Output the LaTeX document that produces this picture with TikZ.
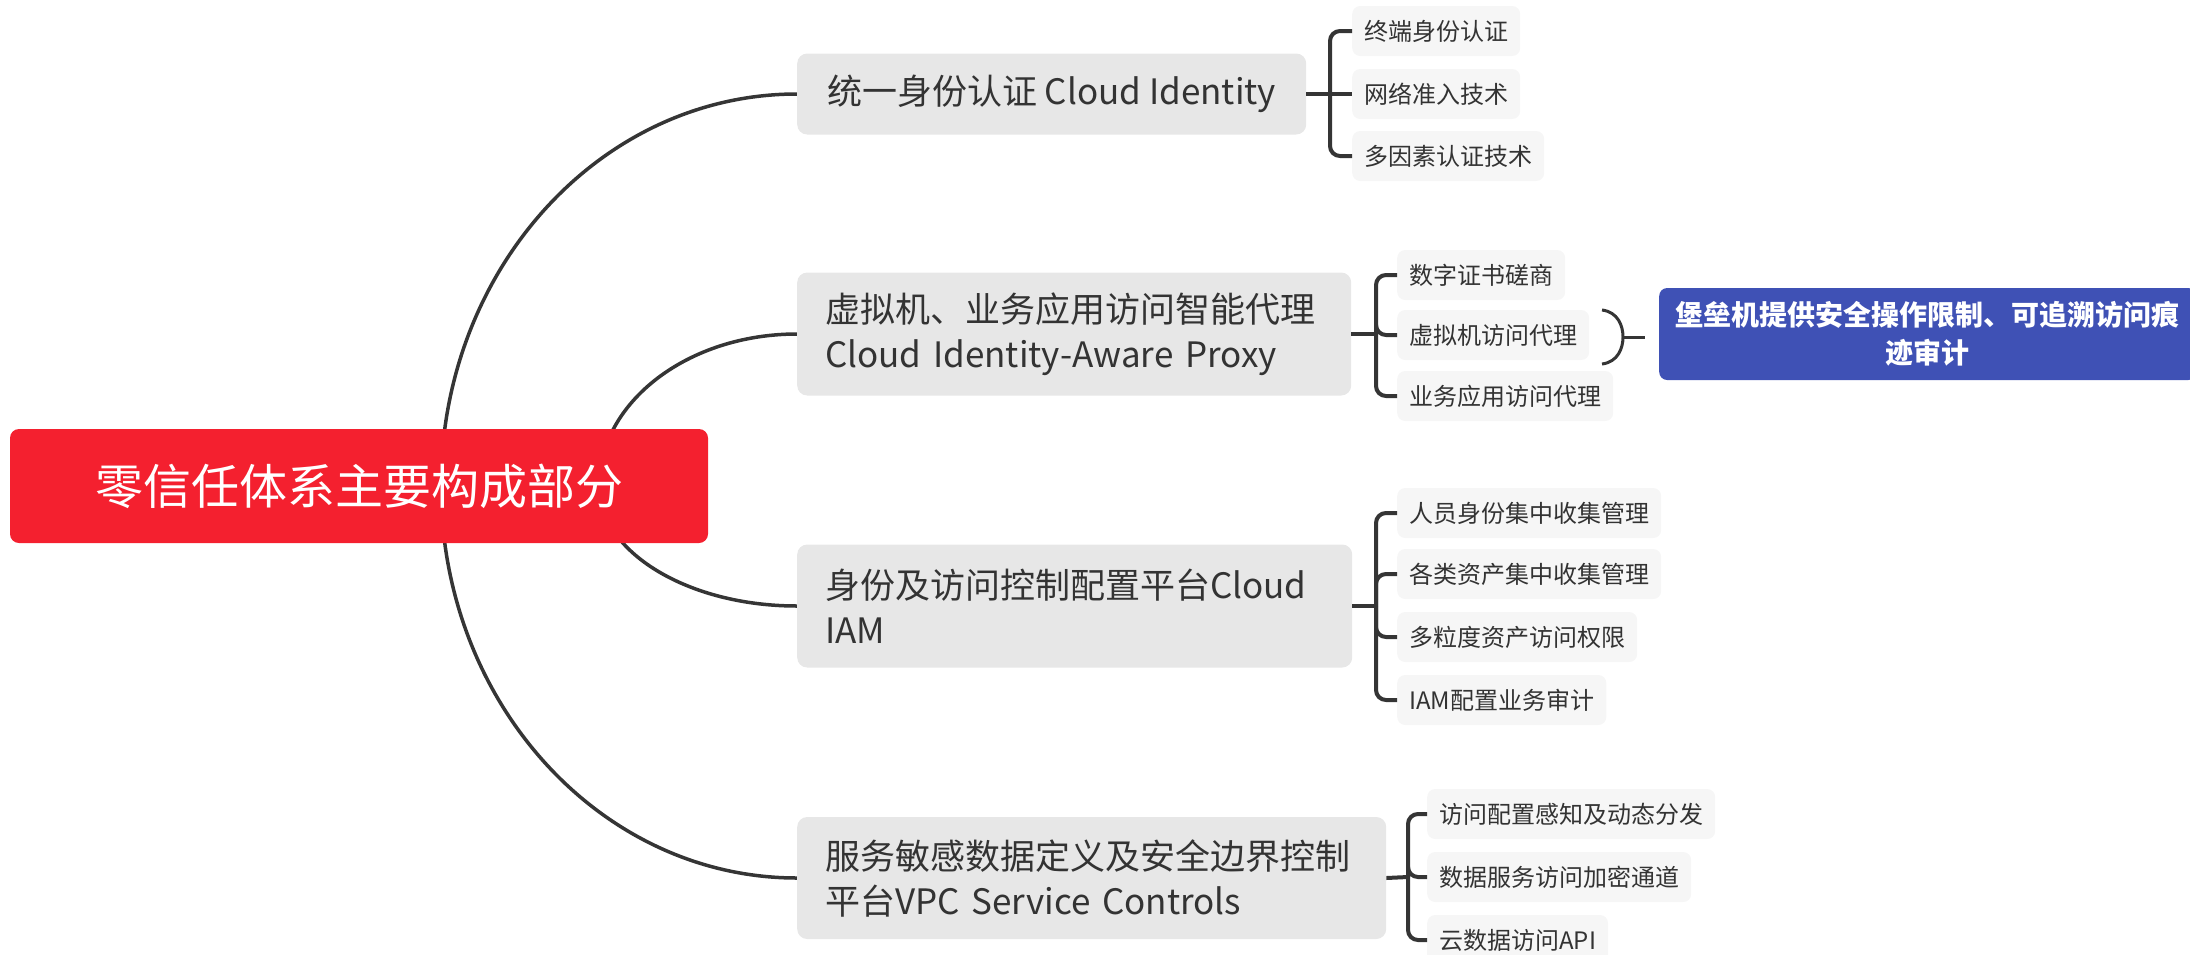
\documentclass[tikz,border=0pt]{standalone}
\usepackage{fontspec}
\setmainfont{Noto Sans CJK SC}
\usetikzlibrary{backgrounds}
\definecolor{rootred}{HTML}{F4202F}
\definecolor{mainfill}{HTML}{E7E7E7}
\definecolor{leaffill}{HTML}{F6F6F6}
\definecolor{textdark}{HTML}{333333}
\definecolor{linedark}{HTML}{353535}
\definecolor{sumblue}{HTML}{3F51B5}
\begin{document}
\begin{tikzpicture}[x=1pt,y=-1pt,
  rootbox/.style={fill=rootred, rounded corners=9pt, minimum width=698pt, minimum height=114pt,
    text=white, font=\fontsize{48}{58}\selectfont, inner sep=0pt},
  mainbox/.style={fill=mainfill, rounded corners=10pt, anchor=west, text=textdark,
    font=\fontsize{35}{45}\selectfont, inner xsep=28pt, inner ysep=0pt},
  leafbox/.style={fill=leaffill, rounded corners=8pt, anchor=west, text=textdark,
    font=\fontsize{24}{28}\selectfont, inner xsep=12pt, inner ysep=0pt, minimum height=50pt},
  sumbox/.style={fill=sumblue, rounded corners=8pt, anchor=west, text=white,
    font=\bfseries\fontsize{28}{38}\selectfont, align=center, inner sep=0pt,
    minimum width=537pt, minimum height=92pt},
  curve/.style={draw=linedark, line width=3.5pt},
  brk/.style={draw=linedark, line width=4pt, rounded corners=10pt}
]
\useasboundingbox (0,0) rectangle (2190,954);

% root
\node[rootbox] (root) at (359,486) {零信任体系主要构成部分};

% main topics
\node[mainbox, minimum width=509pt, minimum height=81pt] (b1) at (797,94) {统一身份认证 Cloud Identity};
\node[mainbox, minimum width=554pt, minimum height=123pt, text width=498pt, align=left] (b2) at (797,334)
  {虚拟机、业务应用访问智能代理\\Cloud Identity-Aware Proxy};
\node[mainbox, minimum width=555pt, minimum height=123pt, text width=499pt, align=left] (b3) at (797,606)
  {身份及访问控制配置平台Cloud\\IAM};
\node[mainbox, minimum width=589pt, minimum height=122pt, text width=533pt, align=left] (b4) at (797,878)
  {服务敏感数据定义及安全边界控制\\平台VPC Service Controls};

% leaves of b1
\node[leafbox] (l11) at (1352,31) {终端身份认证};
\node[leafbox] (l12) at (1352,94) {网络准入技术};
\node[leafbox] (l13) at (1352,156) {多因素认证技术};
% leaves of b2
\node[leafbox] (l21) at (1397,275) {数字证书磋商};
\node[leafbox] (l22) at (1397,335) {虚拟机访问代理};
\node[leafbox] (l23) at (1397,396) {业务应用访问代理};
% leaves of b3
\node[leafbox] (l31) at (1397,513) {人员身份集中收集管理};
\node[leafbox] (l32) at (1397,574) {各类资产集中收集管理};
\node[leafbox] (l33) at (1397,637) {多粒度资产访问权限};
\node[leafbox] (l34) at (1397,700) {IAM配置业务审计};
% leaves of b4
\node[leafbox] (l41) at (1427,814) {访问配置感知及动态分发};
\node[leafbox] (l42) at (1427,877) {数据服务访问加密通道};
\node[leafbox] (l43) at (1427,940) {云数据访问API};

% summary
\node[sumbox] (sum) at (1659,334) {堡垒机提供安全操作限制、可追溯访问痕\\迹审计};

% bracket junctions
\coordinate (k1) at (1330,94);
\coordinate (k2) at (1376,334);
\coordinate (k3) at (1376,606);
\coordinate (k4) at (1408,877);

% curve starts (hidden behind root)
\coordinate (s1) at (441,486);
\coordinate (s2) at (599,486);

% summary bracket points
\coordinate (st) at (1602,310);
\coordinate (sb) at (1602,364);
\coordinate (sm) at (1623,337);
\coordinate (se) at (1645,337);

\begin{pgfonlayer}{background}
  \draw[curve] (s1) .. controls (441,270) and (600,94) .. (b1.west);
  \draw[curve] (s2) .. controls (599,402) and (688,334) .. (b2.west);
  \draw[curve] (s2) .. controls (599,552) and (688,606) .. (b3.west);
  \draw[curve] (s1) .. controls (441,702) and (600,878) .. (b4.west);
\end{pgfonlayer}

% brackets b1
\draw[brk] (b1.east) -- (k1);
\draw[brk] (k1) |- (l11.west);
\draw[brk] (k1) -- (l12.west);
\draw[brk] (k1) |- (l13.west);
% brackets b2
\draw[brk] (b2.east) -- (k2);
\draw[brk] (k2) |- (l21.west);
\draw[brk] (k2) |- (l22.west);
\draw[brk] (k2) |- (l23.west);
% brackets b3
\draw[brk] (b3.east) -- (k3);
\draw[brk] (k3) |- (l31.west);
\draw[brk] (k3) |- (l32.west);
\draw[brk] (k3) |- (l33.west);
\draw[brk] (k3) |- (l34.west);
% brackets b4
\draw[brk] (b4.east) -- (k4);
\draw[brk] (k4) |- (l41.west);
\draw[brk] (k4) |- (l42.west);
\draw[brk] (k4) |- (l43.west);

% summary bracket
\draw[draw=linedark, line width=3pt] (st) .. controls (1618,312) and (1623,326) .. (sm)
  .. controls (1623,348) and (1618,362) .. (sb);
\draw[draw=linedark, line width=3pt] (sm) -- (se);
\end{tikzpicture}
\end{document}
